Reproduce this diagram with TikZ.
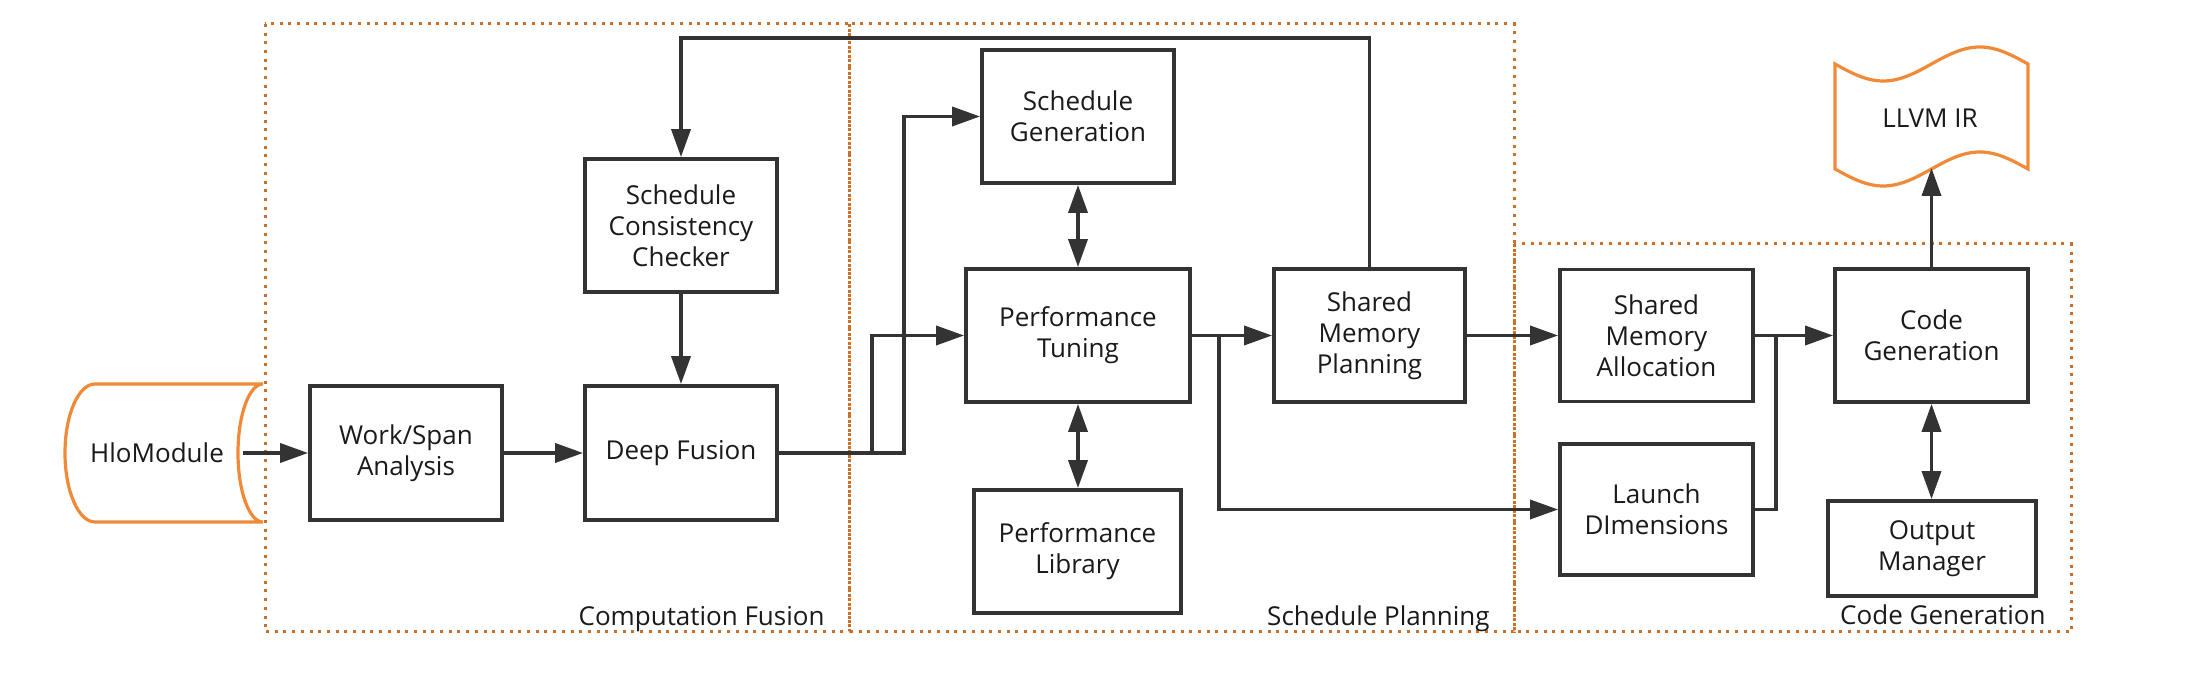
\documentclass[tikz,border=0pt]{standalone}
\usepackage{fontspec}
\setmainfont{Open Sans}
\usetikzlibrary{arrows.meta}
\definecolor{dk}{RGB}{51,51,51}
\definecolor{org}{RGB}{240,138,56}
\definecolor{dotc}{RGB}{204,112,40}
\definecolor{txt}{RGB}{26,26,26}
\begin{document}
\begin{tikzpicture}[x=0.5pt,y=-0.5pt,
  fs/.style={font=\fontsize{13pt}{15.5pt}\selectfont, text=txt},
  blk/.style={fs, draw=dk, line width=1.9pt, fill=white, align=center, inner sep=0pt},
  arr/.style={draw=dk, line width=1.8pt, -{Triangle[length=14pt,width=9.5pt]}},
  darr/.style={draw=dk, line width=1.8pt, {Triangle[length=14pt,width=9.5pt]}-{Triangle[length=14pt,width=9.5pt]}},
  ln/.style={draw=dk, line width=1.8pt},
  grp/.style={draw=dotc, line width=1.5pt, dash pattern=on 1.5pt off 2.85pt},
  glabel/.style={fs, anchor=base east, inner sep=0pt},
  orgshape/.style={draw=org, line width=1.6pt, fill=white}]
\useasboundingbox (0,0) rectangle (2196,688);

% group boxes
\draw[grp] (265,24) rectangle (849,632);
\draw[grp] (849,24) rectangle (1514,632);
\draw[grp] (1514,244) rectangle (2071,632);
\node[glabel] (lcf) at (825,626) {Computation Fusion};
\node[glabel] (lsp) at (1490,626) {Schedule Planning};
\node[glabel] (lcg) at (2046,625) {Code Generation};

% HloModule (stored data)
\draw[orgshape] (95,384) -- (263,384)
  arc[start angle=90, end angle=270, x radius=12.5pt, y radius=34.5pt]
  -- (95,522)
  arc[start angle=270, end angle=90, x radius=15pt, y radius=34.5pt] -- cycle;
\node[fs, inner sep=0pt] (hlo) at (157,453) {HloModule};
\coordinate (hloout) at (243,453);

% LLVM IR (tape)
\draw[orgshape] (1835,64) sin (1883.25,81) cos (1931.5,64) sin (1979.75,47) cos (2028,64)
  -- (2028,169) sin (1979.75,152) cos (1931.5,169) sin (1883.25,186) cos (1835,169) -- cycle;
\node[fs, inner sep=0pt] (llvm) at (1930,118) {LLVM IR};
\coordinate (llvmb) at (1931.5,168);

% blocks
\node[blk, minimum width=96pt, minimum height=67pt] (wsa) at (406,453) {Work/Span\\Analysis};
\node[blk, minimum width=96pt, minimum height=67pt] (df) at (681,453) {Deep Fusion};
\node[blk, minimum width=96pt, minimum height=66.5pt] (scc) at (681,225.5) {Schedule\\Consistency\\Checker};
\node[blk, minimum width=96pt, minimum height=66.5pt] (sg) at (1078,116.5) {Schedule\\Generation};
\node[blk, minimum width=112pt, minimum height=66.5pt] (pt) at (1078,335.5) {Performance\\Tuning};
\node[blk, minimum width=103.5pt, minimum height=61.5pt] (pl) at (1077.5,551.5) {Performance\\Library};
\node[blk, minimum width=95.5pt, minimum height=66.5pt] (smp) at (1369.5,335.5) {Shared\\Memory\\Planning};
\node[blk, minimum width=96.5pt, minimum height=66pt] (sma) at (1656.5,335.5) {Shared\\Memory\\Allocation};
\node[blk, minimum width=96.5pt, minimum height=65.5pt] (ld) at (1656.5,509.5) {Launch\\DImensions};
\node[blk, minimum width=96.5pt, minimum height=66.5pt] (cg) at (1931.5,335.5) {Code\\Generation};
\node[blk, minimum width=104pt, minimum height=47.5pt] (om) at (1932,548.5) {Output\\Manager};

% helper coordinates
\coordinate (fbtop) at (0,38);
\coordinate (jsg) at (904,453);
\coordinate (jpt) at (872,453);
\coordinate (jld) at (1219,335.5);
\coordinate (jcg) at (1776,335.5);

% connectors
\draw[arr] (hloout) -- (wsa.west);
\draw[arr] (wsa.east) -- (df.west);
\draw[arr] (scc.south) -- (df.north);
\draw[arr] (smp.north) -- (smp.north |- fbtop) -| (scc.north);
\draw[arr] (df.east) -- (jsg) |- (sg.west);
\draw[arr] (jpt) |- (pt.west);
\draw[darr] (pt.north) -- (sg.south);
\draw[darr] (pt.south) -- (pl.north -| pt.south);
\draw[arr] (pt.east) -- (smp.west);
\draw[arr] (jld) |- (ld.west);
\draw[arr] (smp.east) -- (sma.west);
\draw[arr] (sma.east) -- (cg.west);
\draw[ln] (ld.east) -| (jcg);
\draw[darr] (cg.south) -- (om.north -| cg.south);
\draw[arr] (cg.north) -- (llvmb);
\end{tikzpicture}
\end{document}
